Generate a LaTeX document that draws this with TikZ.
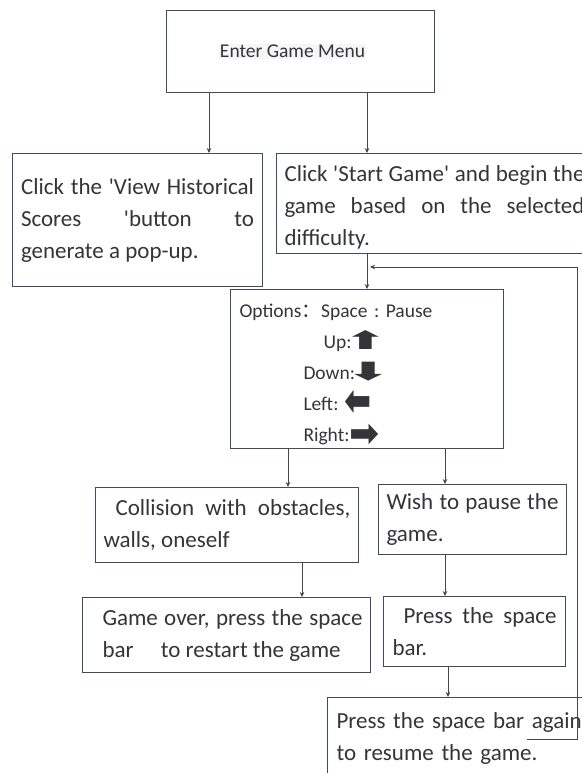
\documentclass[tikz,border=0pt]{standalone}
\usepackage{graphicx}
\usepackage{fontspec}
\setmainfont{Carlito}
\newfontfamily\cjk{Noto Sans CJK SC}
\newfontfamily\symfont{DejaVu Sans Bold}
\usetikzlibrary{arrows.meta}

\definecolor{boxline}{RGB}{62,74,104}
\definecolor{ink}{RGB}{52,52,58}

% arrow key glyph: x scale, y scale, lowering, glyph
\newcommand{\keyarrow}[4]{\smash{\raisebox{-#3}{\scalebox{#1}[#2]{\symfont\fontsize{24bp}{31bp}\selectfont #4}}}}

\tikzset{
  stepbox/.style={draw=boxline, line width=1bp, anchor=north west, inner ysep=0pt,
    text=ink, align=justify, font=\fontsize{23bp}{32bp}\selectfont\frenchspacing},
  smalltext/.style={font=\fontsize{19.5bp}{31bp}\selectfont\frenchspacing},
  flow/.style={draw=gray!55!black, line width=0.6bp, -{Stealth[length=5bp,width=4.5bp]}},
}

\begin{document}
\begin{tikzpicture}[x=1bp, y=-1bp]
  \useasboundingbox (0,0) rectangle (582,773);

  % Menu entry
  \node[stepbox, smalltext, align=center, minimum width=268bp, minimum height=82bp]
    (menu) at (166,10) {\fboxsep=1bp\colorbox{gray!7}{Enter Game Menu}\hspace*{16bp}};

  % The two choices in the menu
  \node[stepbox, text width=233bp, inner xsep=8bp, minimum width=250bp, minimum height=133bp]
    (hist) at (12,153)
    {Click the \textquotesingle View Historical\linebreak
     Scores \textquotesingle button to\linebreak
     generate a pop-up.};
  \node[stepbox, text width=300bp, inner xsep=8bp, minimum width=316bp, minimum height=100bp]
    (start) at (276,153)
    {\rule{0pt}{23bp}Click \textquotesingle Start Game\textquotesingle{} and begin the\linebreak
     game based on the selected\linebreak
     difficulty.};

  % Key options
  \node[stepbox, smalltext, align=left, text width=255bp, inner xsep=9bp,
    minimum width=273bp, minimum height=159bp] (opts) at (230,289)
    {\rule{0pt}{25bp}Options{\cjk ：}Space : Pause\\
     \hspace*{84bp}Up:\hspace{-7bp}\keyarrow{2.1}{1.05}{1bp}{⬆}\\
     \hspace*{64bp}Down:\hspace{-9bp}\keyarrow{2.2}{1.05}{1bp}{⬇}\\
     \hspace*{64bp}Left:\ \keyarrow{1.35}{1.8}{5bp}{⬅}\\
     \hspace*{64bp}Right:\keyarrow{1.5}{1.6}{5bp}{➡}};

  % Left branch: game over
  \node[stepbox, text width=247bp, inner xsep=8bp, minimum width=263bp, minimum height=75bp]
    (coll) at (95,487)
    {\hspace*{12bp}Collision with obstacles,\linebreak walls, oneself};
  \node[stepbox, text width=272bp, inner xsep=8bp, minimum width=288bp, minimum height=75bp]
    (over) at (82,597)
    {\hspace*{12bp}Game over, press the space\linebreak
     \hspace*{12bp}bar\hspace{22bp} to restart the game};

  % Right branch: pause and resume
  \node[stepbox, text width=172bp, inner xsep=8bp, minimum width=187bp, minimum height=70bp]
    (wish) at (378,484)
    {Wish to pause the\linebreak game.};
  \node[stepbox, text width=164bp, inner xsep=9bp, minimum width=182bp, minimum height=70bp]
    (press) at (383,596)
    {\hspace*{11bp}Press the space\linebreak bar.};
  \node[stepbox, align=left, text width=282bp, inner xsep=9bp, minimum width=300bp, minimum height=82bp]
    (resume) at (327,697)
    {Press the space bar again\\ to resume the game.};

  % Arrow tails that are not at the middle of a box
  \coordinate (m1) at ([xshift=43bp]menu.south west);
  \coordinate (o1) at ([xshift=58bp]opts.south west);
  \coordinate (o2) at ([xshift=215bp]opts.south west);
  \coordinate (c1) at ([xshift=207bp]coll.south west);
  \coordinate (p1) at ([xshift=65bp]press.south west);
  \coordinate (r1) at ([xshift=200bp, yshift=-42bp]resume.north west);
  \coordinate (turn) at (577,267);

  % Connectors
  \draw[flow] (m1) -- (m1 |- hist.north);
  \draw[flow] (menu.south -| opts.north) -- (start.north -| opts.north);
  \draw[flow] (start.south -| opts.north) -- (opts.north);
  \draw[flow] (o1) -- (o1 |- coll.north);
  \draw[flow] (o2) -- (o2 |- wish.north);
  \draw[flow] (c1) -- (c1 |- over.north);
  \draw[flow] (o2 |- wish.south) -- (o2 |- press.north);
  \draw[flow] (p1) -- (p1 |- resume.north);

  % Back to the game after resuming
  \draw[flow, shorten >=3bp] (r1) -| (turn) -- (turn -| opts.north);
\end{tikzpicture}
\end{document}
